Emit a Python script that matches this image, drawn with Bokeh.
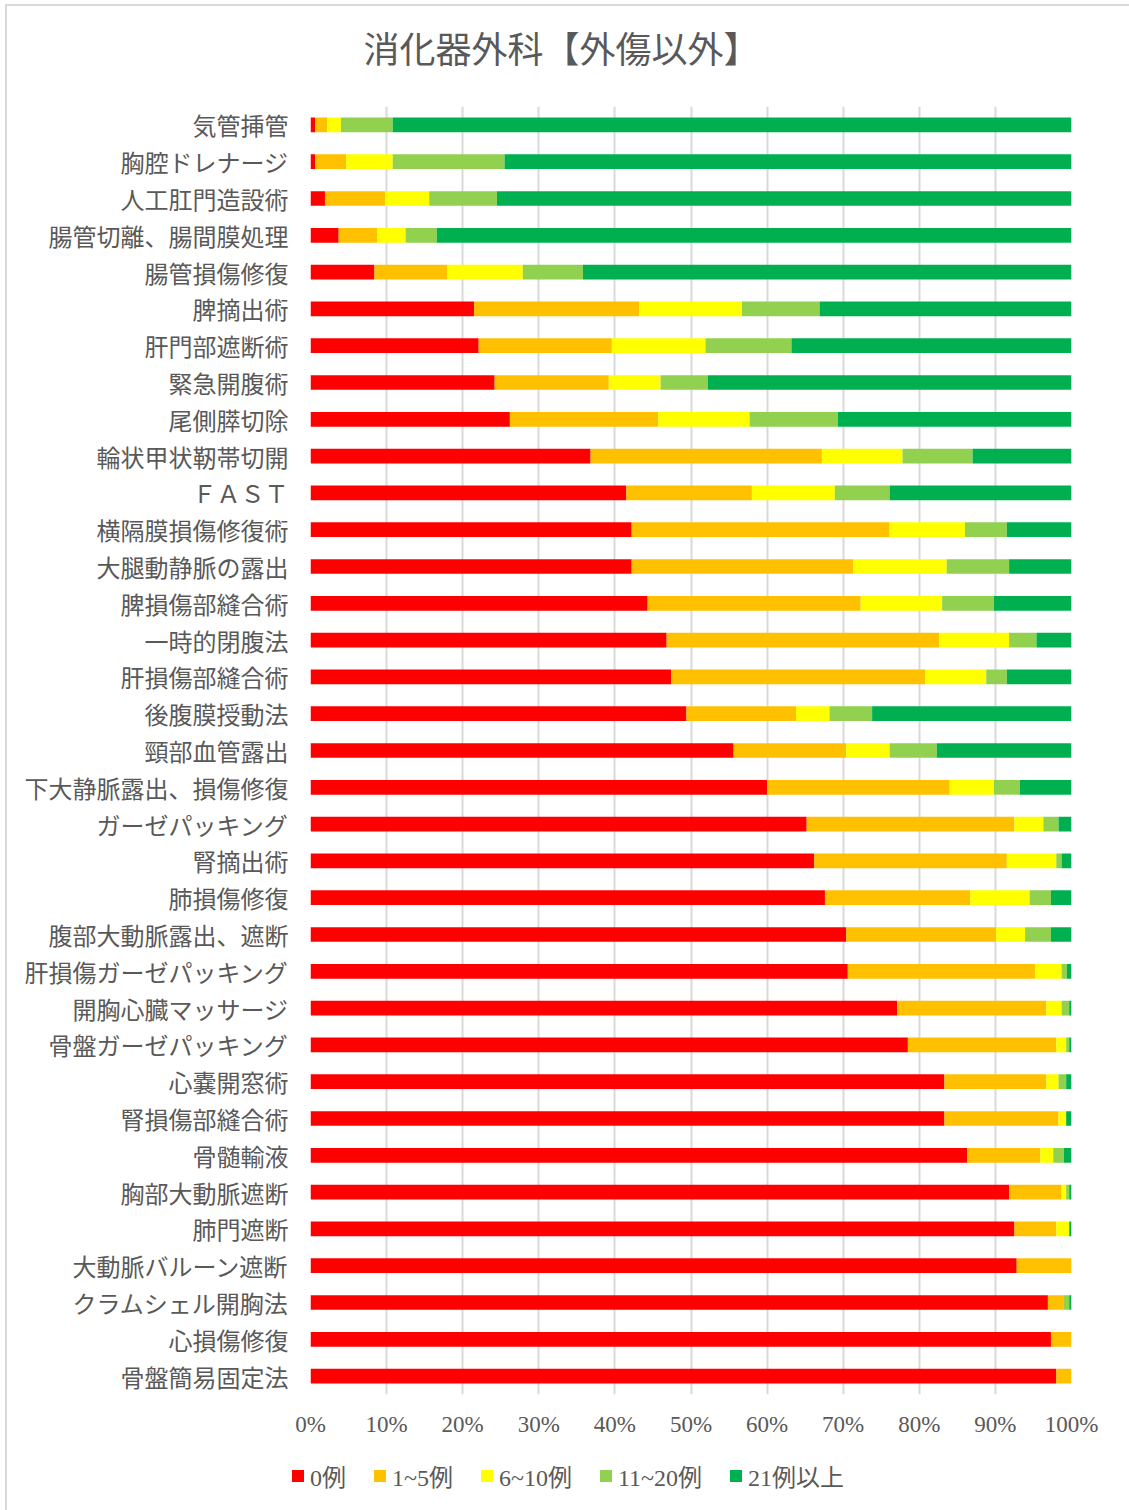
from bokeh.plotting import figure
from bokeh.layouts import column
from bokeh.models import (FactorRange, Range1d, FixedTicker, PrintfTickFormatter,
                          Legend, LegendItem, Label, ColumnDataSource)
from bokeh.embed import file_html
from bokeh.resources import INLINE

# Procedures, listed top to bottom
procedures = [
    "気管挿管", "胸腔ドレナージ", "人工肛門造設術", "腸管切離、腸間膜処理", "腸管損傷修復",
    "脾摘出術", "肝門部遮断術", "緊急開腹術", "尾側膵切除", "輪状甲状靭帯切開",
    "ＦＡＳＴ", "横隔膜損傷修復術", "大腿動静脈の露出", "脾損傷部縫合術", "一時的閉腹法",
    "肝損傷部縫合術", "後腹膜授動法", "頸部血管露出", "下大静脈露出、損傷修復", "ガーゼパッキング",
    "腎摘出術", "肺損傷修復", "腹部大動脈露出、遮断", "肝損傷ガーゼパッキング", "開胸心臓マッサージ",
    "骨盤ガーゼパッキング", "心嚢開窓術", "腎損傷部縫合術", "骨髄輸液", "胸部大動脈遮断",
    "肺門遮断", "大動脈バルーン遮断", "クラムシェル開胸法", "心損傷修復", "骨盤簡易固定法",
]

# Share of respondents (%) per experience band
cases_0 = [0.6, 0.6, 1.9, 3.7, 8.4, 21.5, 22.1, 24.2, 26.2, 36.8,
           41.5, 42.2, 42.2, 44.3, 46.8, 47.4, 49.4, 55.6, 60.0, 65.2,
           66.2, 67.6, 70.4, 70.6, 77.1, 78.5, 83.3, 83.3, 86.3, 91.8,
           92.5, 92.8, 96.9, 97.3, 98.0]
cases_1_5 = [1.6, 4.1, 7.9, 5.1, 9.6, 21.7, 17.5, 15.0, 19.5, 30.4,
             16.5, 33.9, 29.1, 28.0, 35.8, 33.4, 14.4, 14.8, 24.0, 27.3,
             25.3, 19.1, 19.7, 24.6, 19.6, 19.5, 13.4, 15.0, 9.6, 6.9,
             5.5, 7.2, 2.1, 2.7, 2.0]
cases_6_10 = [1.8, 6.1, 5.8, 3.7, 9.9, 13.5, 12.3, 6.8, 12.0, 10.6,
              10.9, 9.9, 12.3, 10.7, 9.2, 8.0, 4.4, 5.7, 5.8, 3.8,
              6.5, 7.8, 3.8, 3.5, 2.0, 1.3, 1.6, 1.0, 1.7, 0.6,
              1.7, 0.0, 0.0, 0.0, 0.0]
cases_11_20 = [6.8, 14.7, 8.9, 4.1, 7.9, 10.2, 11.3, 6.2, 11.6, 9.2,
               7.2, 5.5, 8.2, 6.8, 3.6, 2.7, 5.6, 6.2, 3.4, 2.0,
               0.7, 2.8, 3.4, 0.7, 1.0, 0.4, 1.0, 0.0, 1.4, 0.4,
               0.0, 0.0, 0.7, 0.0, 0.0]
cases_21_plus = [89.2, 74.5, 75.5, 83.4, 64.2, 33.1, 36.8, 47.8, 30.7, 13.0,
                 23.9, 8.5, 8.2, 10.2, 4.6, 8.5, 26.2, 17.7, 6.8, 1.7,
                 1.3, 2.7, 2.7, 0.6, 0.3, 0.3, 0.7, 0.7, 1.0, 0.3,
                 0.3, 0.0, 0.3, 0.0, 0.0]

series_names = ["0例", "1~5例", "6~10例", "11~20例", "21例以上"]
series_colors = ["#FF0000", "#FFC000", "#FFFF00", "#92D050", "#00B050"]
x_ticks = [0, 10, 20, 30, 40, 50, 60, 70, 80, 90, 100]
chart_title = "消化器外科【外傷以外】"

TEXT_COLOR = "#595959"
CJK_FONT = "Noto Sans CJK JP"
NUM_FONT = "Liberation Serif, Noto Sans CJK JP"
WIDTH = 1122


def strip(height):
    """Axis-less figure used for the title and legend rows."""
    f = figure(
        width=WIDTH, height=height, title=None,
        x_range=Range1d(0, WIDTH), y_range=Range1d(0, height),
        x_axis_type=None, y_axis_type=None,
        output_backend="svg", toolbar_location=None,
        min_border_left=0, min_border_right=0, min_border_top=0, min_border_bottom=0,
        background_fill_color="white", border_fill_color="white",
    )
    f.outline_line_color = None
    f.xgrid.visible = False
    f.ygrid.visible = False
    f.frame_align = False
    return f


# title row
head = strip(100)
head.add_layout(Label(
    x=554, y=60, text=chart_title,
    text_font=CJK_FONT, text_font_size="36px", text_color=TEXT_COLOR,
    text_align="center", text_baseline="middle",
))

# main chart: stacked horizontal bars
source = ColumnDataSource(dict(
    proc=procedures, s0=cases_0, s1=cases_1_5, s2=cases_6_10,
    s3=cases_11_20, s4=cases_21_plus,
))

p = figure(
    width=WIDTH, height=1348, title=None,
    y_range=FactorRange(*reversed(procedures), range_padding=0),
    x_range=Range1d(0, 100),
    output_backend="svg", toolbar_location=None,
    min_border_left=303, min_border_right=58,
    min_border_top=0, min_border_bottom=60,
    background_fill_color="white", border_fill_color="white",
)
p.outline_line_color = None
p.frame_align = False

p.hbar_stack(
    ["s0", "s1", "s2", "s3", "s4"], y="proc", height=0.4,
    fill_color=series_colors, line_color=None, source=source,
)

# x axis: percentage ticks, no axis line
p.xaxis.ticker = FixedTicker(ticks=x_ticks)
p.xaxis.formatter = PrintfTickFormatter(format="%d%%")
p.xaxis.axis_line_color = None
p.xaxis.major_tick_line_color = None
p.xaxis.minor_tick_line_color = None
p.xaxis.major_tick_out = 0
p.xaxis.major_label_standoff = 17
p.xaxis.major_label_text_font = NUM_FONT
p.xaxis.major_label_text_font_size = "23px"
p.xaxis.major_label_text_color = TEXT_COLOR

# y axis: procedure names
p.yaxis.axis_line_color = None
p.yaxis.major_tick_line_color = None
p.yaxis.minor_tick_line_color = None
p.yaxis.major_tick_out = 0
p.yaxis.major_label_standoff = 22
p.yaxis.major_label_text_font = CJK_FONT
p.yaxis.major_label_text_font_size = "24px"
p.yaxis.major_label_text_color = TEXT_COLOR

p.xgrid.grid_line_color = "#D9D9D9"
p.xgrid.grid_line_width = 2
p.ygrid.grid_line_color = None

# legend row; zero-size proxies carry each band's colour
leg = strip(56)
swatches = [
    leg.hbar(y=[0], left=[0], right=[0], height=0, fill_color=c, line_color=None)
    for c in series_colors
]
legend = Legend(
    items=[LegendItem(label=n, renderers=[r]) for n, r in zip(series_names, swatches)],
    orientation="horizontal", location=(283, 17),
    glyph_width=15, glyph_height=15, label_standoff=5, spacing=26,
    padding=0, margin=0, border_line_color=None, background_fill_alpha=0,
    label_text_font=NUM_FONT, label_text_font_size="24px", label_text_color=TEXT_COLOR,
)
leg.add_layout(legend, "center")

layout = column(head, p, leg, spacing=0)
layout.margin = (4, 0, 0, 5)
layout.styles = {"border-top": "2px solid #D9D9D9", "border-left": "2px solid #D9D9D9",
                 "box-sizing": "content-box"}

open("out.html", "w").write(file_html(layout, INLINE))
